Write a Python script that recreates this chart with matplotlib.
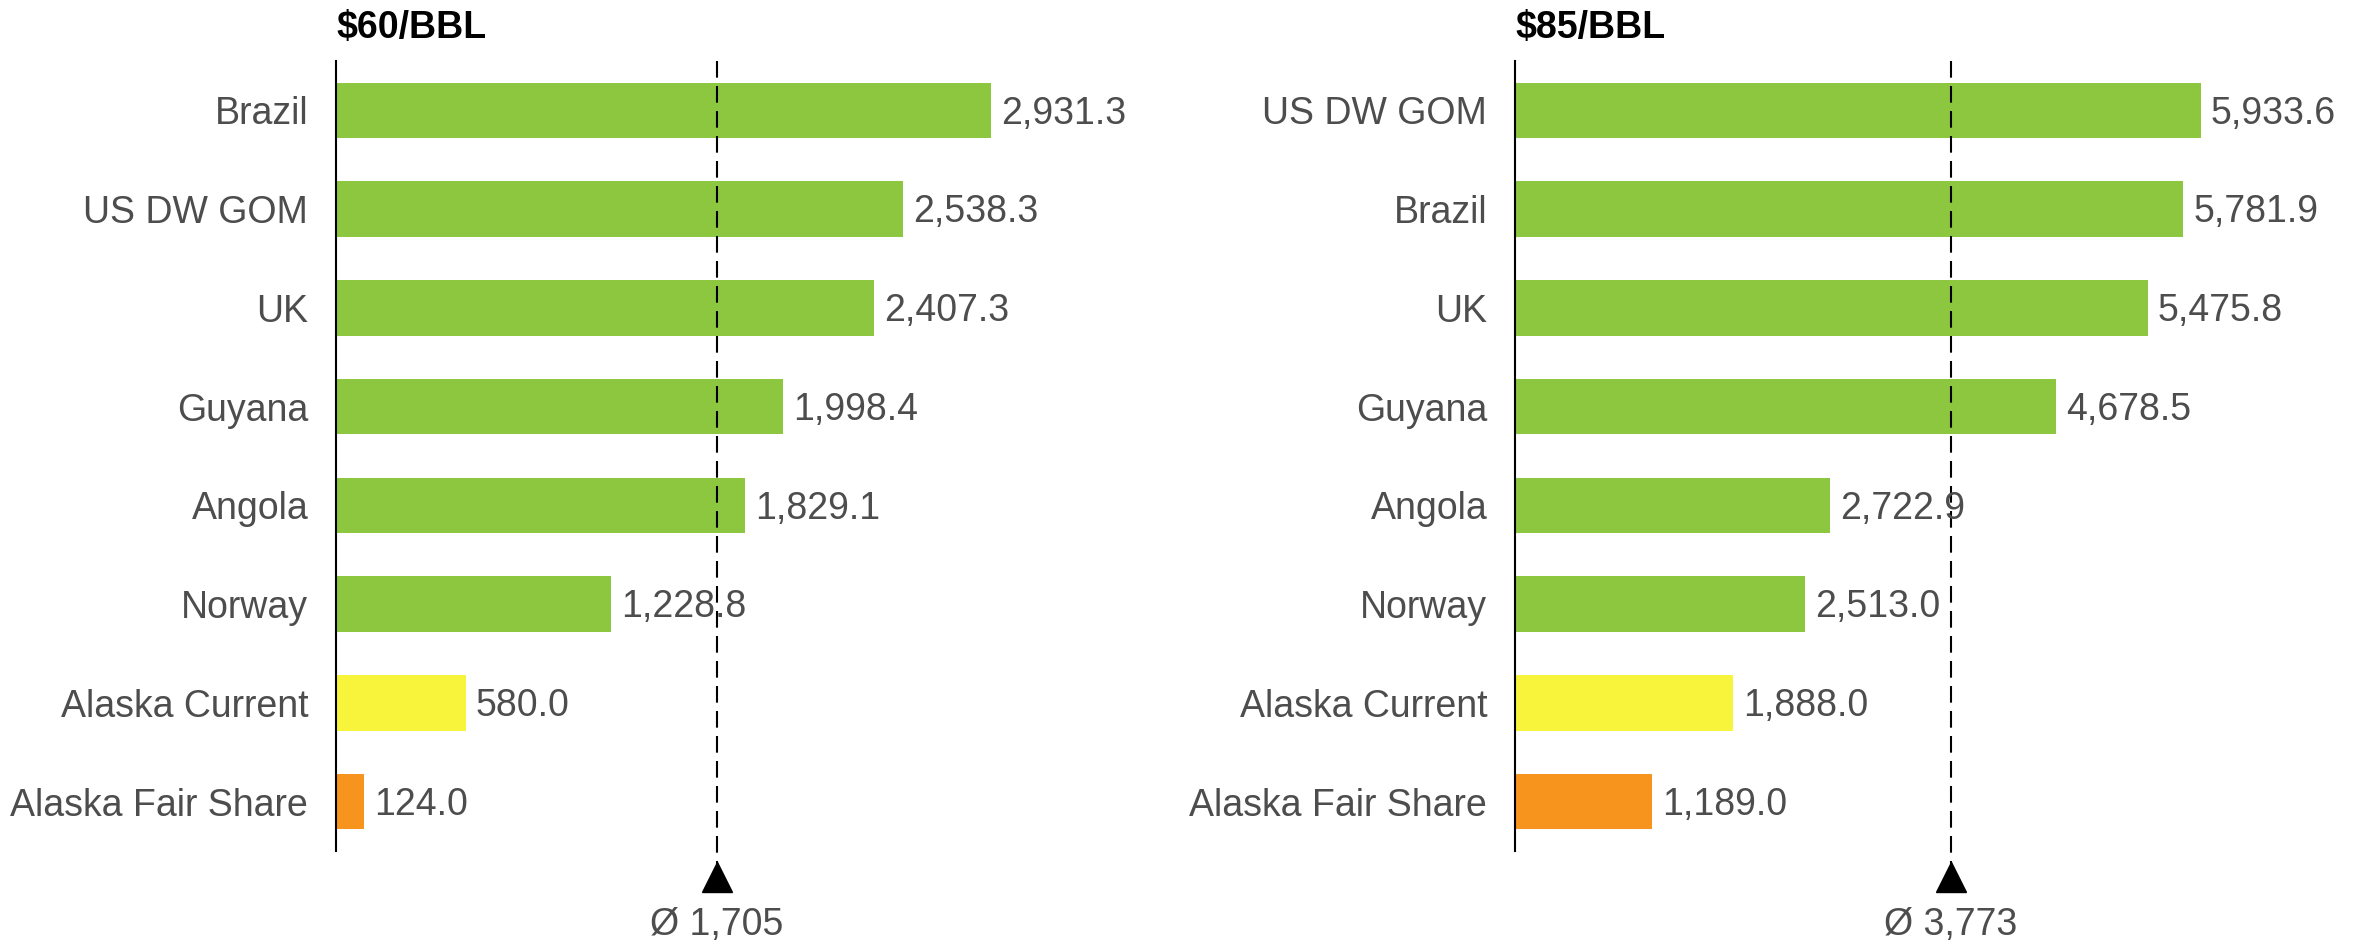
import numpy as np
import matplotlib
matplotlib.use("Agg")
import matplotlib.pyplot as plt
import matplotlib.transforms as mtransforms

# data for each oil price scenario
titles = ["$60/BBL", "$85/BBL"]

countries_60 = ["Brazil", "US DW GOM", "UK", "Guyana", "Angola", "Norway",
                "Alaska Current", "Alaska Fair Share"]
values_60 = [2931.3, 2538.3, 2407.3, 1998.4, 1829.1, 1228.8, 580.0, 124.0]

countries_85 = ["US DW GOM", "Brazil", "UK", "Guyana", "Angola", "Norway",
                "Alaska Current", "Alaska Fair Share"]
values_85 = [5933.6, 5781.9, 5475.8, 4678.5, 2722.9, 2513.0, 1888.0, 1189.0]

# colours
green = "#8DC63F"
yellow = "#F8F43C"
orange = "#F7941D"
text_grey = "#4D4D4D"

def bar_colors(names):
    cols = []
    for n in names:
        if n == "Alaska Current":
            cols.append(yellow)
        elif n == "Alaska Fair Share":
            cols.append(orange)
        else:
            cols.append(green)
    return cols

plt.rcParams['font.family'] = ['Liberation Sans', 'DejaVu Sans']
fs = 27

W, H = 2366, 940
fig = plt.figure(figsize=(W / 100, H / 100), dpi=100)

# axes placement in pixels: left, width, x max
panels = [
    (countries_60, values_60, 336, 760, 3400),
    (countries_85, values_85, 1515, 809, 7000),
]
ax_bottom, ax_height = 89, 790

for (names, vals, left, width, xmax), title in zip(panels, titles):
    ax = fig.add_axes([left / W, ax_bottom / H, width / W, ax_height / H])
    y = np.arange(len(names))
    ax.barh(y, vals, height=0.56, color=bar_colors(names))
    ax.set_xlim(0, xmax)
    ax.set_ylim(len(names) - 0.5, -0.5)

    for s in ["top", "right", "bottom"]:
        ax.spines[s].set_visible(False)
    ax.spines["left"].set_linewidth(1.5)
    ax.spines["left"].set_color("black")
    ax.set_xticks([])
    ax.set_yticks(y)
    ax.set_yticklabels(names, fontsize=fs, color=text_grey)
    ax.tick_params(axis="y", length=0, pad=20)

    # value labels, cap height centred on the bar
    for yi, v in zip(y, vals):
        ax.text(v + 10 * xmax / width, yi + 0.135, f"{v:,.1f}", va="baseline",
                ha="left", fontsize=fs, color=text_grey)

    # average line with triangle marker
    avg = np.mean(vals)
    trans = mtransforms.blended_transform_factory(ax.transData, ax.transAxes)
    ax.plot([avg, avg], [1.0, -13 / ax_height], transform=trans, color="black",
            lw=1.5, dashes=(8, 4), clip_on=False)
    ax.plot([avg], [-26 / ax_height], transform=trans, marker="^",
            markersize=21, color="black", clip_on=False)
    ax.text(avg, -84 / ax_height, f"Ø {avg:,.0f}", transform=trans,
            ha="center", va="baseline", fontsize=fs, color=text_grey)

    # title
    fig.text(left / W, (H - 38) / H, title, ha="left", va="baseline",
             fontsize=fs, fontweight="bold", color="black")

fig.savefig("out.png", dpi=100)
